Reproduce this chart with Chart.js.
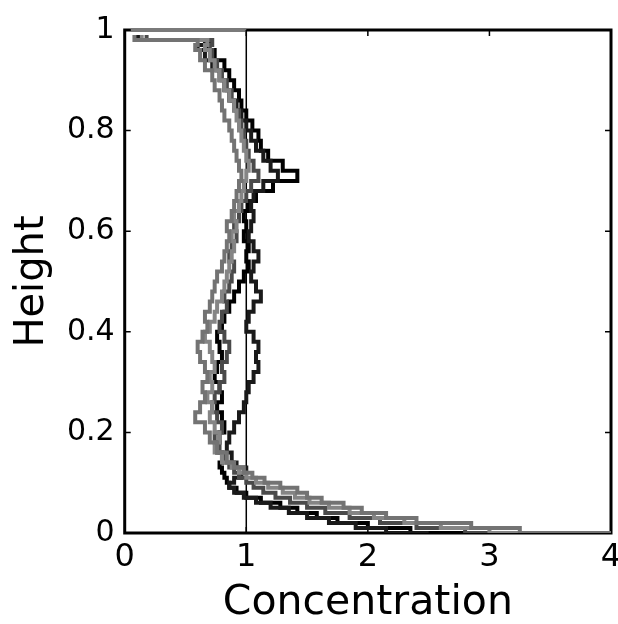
<!DOCTYPE html>
<html lang="en">
<head>
    <meta charset="UTF-8">
    <title>Concentration profiles</title>
    <script src="https://cdn.jsdelivr.net/npm/chart.js"></script>
    <style>
        body { margin: 0; background: #fff; }
    </style>
</head>
<body>
    <canvas id="myChartCanvas" width="618" height="624"></canvas>

<script>
    // heights where each profile was sampled (shared by all runs)
    const alturas = [0, 0.01, 0.02, 0.03, 0.04, 0.05, 0.06, 0.07, 0.08, 0.09,
        0.10, 0.11, 0.12, 0.13, 0.14, 0.16, 0.18, 0.20, 0.22, 0.24,
        0.26, 0.28, 0.30, 0.32, 0.34, 0.36, 0.38, 0.40, 0.42, 0.44,
        0.46, 0.48, 0.50, 0.52, 0.54, 0.56, 0.58, 0.60, 0.62, 0.64,
        0.66, 0.68, 0.70, 0.72, 0.74, 0.76, 0.78, 0.80, 0.82, 0.84,
        0.86, 0.88, 0.90, 0.92, 0.94, 0.96, 0.97, 0.98, 0.99];

    // concentration of each run at those heights
    const pretoA = [3.0, 2.35, 2.0, 1.75, 1.58, 1.42, 1.28, 1.12, 1.0, 0.92,
        0.86, 0.84, 0.82, 0.8, 0.78, 0.8, 0.76, 0.78, 0.82, 0.8,
        0.76, 0.8, 0.78, 0.74, 0.76, 0.8, 0.78, 0.76, 0.8, 0.82,
        0.86, 0.9, 0.94, 0.98, 1.02, 1.0, 1.02, 0.98, 1.0, 0.98,
        1.02, 1.08, 1.22, 1.42, 1.3, 1.18, 1.12, 1.1, 1.05, 1.0,
        0.96, 0.94, 0.9, 0.86, 0.82, 0.74, 0.68, 0.7, 0.12];

    const pretoB = [2.5, 2.15, 1.9, 1.68, 1.5, 1.35, 1.2, 1.08, 0.98, 0.9,
        0.86, 0.9, 0.96, 1.0, 0.92, 0.88, 0.84, 0.86, 0.9, 0.94,
        0.98, 1.0, 1.02, 1.06, 1.1, 1.08, 1.1, 1.06, 1.0, 1.02,
        1.06, 1.12, 1.08, 1.04, 1.06, 1.1, 1.06, 1.02, 1.04, 1.06,
        1.04, 1.06, 1.14, 1.26, 1.2, 1.14, 1.08, 1.04, 1.0, 0.96,
        0.92, 0.86, 0.82, 0.78, 0.72, 0.66, 0.6, 0.66, 0.1];

    const cinzaEscuro = [3.3, 2.8, 2.4, 2.1, 1.85, 1.65, 1.5, 1.36, 1.24, 1.14,
        1.06, 1.0, 0.94, 0.9, 0.86, 0.82, 0.78, 0.74, 0.8, 0.76,
        0.72, 0.74, 0.78, 0.82, 0.8, 0.84, 0.86, 0.82, 0.78, 0.8,
        0.84, 0.82, 0.86, 0.88, 0.9, 0.86, 0.88, 0.92, 0.9, 0.94,
        0.96, 1.0, 1.04, 1.1, 1.06, 1.02, 1.0, 0.98, 0.96, 0.94,
        0.9, 0.88, 0.84, 0.8, 0.76, 0.72, 0.7, 0.72, 0.18];

    const cinzaA = [4.0, 3.25, 2.85, 2.4, 2.15, 1.95, 1.8, 1.62, 1.5, 1.42,
        1.28, 1.15, 1.05, 0.98, 0.9, 0.84, 0.76, 0.7, 0.66, 0.58,
        0.62, 0.66, 0.64, 0.68, 0.66, 0.62, 0.6, 0.64, 0.68, 0.66,
        0.7, 0.72, 0.74, 0.76, 0.8, 0.82, 0.84, 0.86, 0.84, 0.88,
        0.9, 0.92, 0.94, 0.96, 0.94, 0.92, 0.9, 0.88, 0.86, 0.82,
        0.8, 0.78, 0.74, 0.72, 0.66, 0.62, 0.58, 0.6, 0.08];

    const cinzaB = [3.6, 3.0, 2.6, 2.3, 2.05, 1.85, 1.68, 1.52, 1.4, 1.3,
        1.18, 1.08, 1.0, 0.94, 0.88, 0.8, 0.74, 0.78, 0.74, 0.7,
        0.72, 0.68, 0.72, 0.7, 0.74, 0.72, 0.7, 0.66, 0.7, 0.74,
        0.76, 0.8, 0.82, 0.84, 0.86, 0.88, 0.9, 0.88, 0.92, 0.9,
        0.94, 0.96, 0.98, 1.0, 1.02, 1.0, 0.98, 0.96, 0.94, 0.92,
        0.9, 0.86, 0.82, 0.78, 0.74, 0.7, 0.66, 0.68, 0.14];

    // reference line (uniform concentration) and the band along the lid
    const referenciaX = [1, 1];
    const referenciaY = [0, 1];
    const tampaX = [0.05, 1.0];
    const tampaY = [1, 1];

    const xTicks = [0, 1, 2, 3, 4];
    const yTicks = [0, 0.2, 0.4, 0.6, 0.8, 1];

    function montarPontos(xs, ys) {
        return xs.map((v, i) => ({ x: v, y: ys[i] }));
    }

    function perfil(valores, cor) {
        return {
            data: montarPontos(valores, alturas),
            borderColor: cor,
            borderWidth: 4,
            stepped: 'before',
            pointRadius: 0,
            fill: false
        };
    }

    // frame round the plot + small inward ticks, drawn under the lines
    const moldura = {
        id: 'moldura',
        beforeDatasetsDraw(chart) {
            const { ctx, chartArea: a, scales } = chart;
            ctx.save();
            ctx.strokeStyle = '#000';
            ctx.lineWidth = 3;
            ctx.strokeRect(a.left, a.top, a.right - a.left, a.bottom - a.top);
            ctx.lineWidth = 1.5;
            ctx.beginPath();
            xTicks.forEach(t => {
                const px = scales.x.getPixelForValue(t);
                ctx.moveTo(px, a.bottom); ctx.lineTo(px, a.bottom - 6);
                ctx.moveTo(px, a.top); ctx.lineTo(px, a.top + 6);
            });
            yTicks.forEach(t => {
                const py = scales.y.getPixelForValue(t);
                ctx.moveTo(a.left, py); ctx.lineTo(a.left + 6, py);
                ctx.moveTo(a.right, py); ctx.lineTo(a.right - 6, py);
            });
            ctx.stroke();
            ctx.restore();
        }
    };

    Chart.defaults.font.family = "'DejaVu Sans', sans-serif";
    Chart.defaults.color = '#000';

    const dados = {
        datasets: [
            perfil(cinzaA, '#737373'),
            perfil(cinzaB, '#858585'),
            perfil(cinzaEscuro, '#4a4a4a'),
            perfil(pretoB, '#1a1a1a'),
            perfil(pretoA, '#000'),
            {
                data: montarPontos(referenciaX, referenciaY),
                borderColor: '#000',
                borderWidth: 1.5,
                pointRadius: 0
            },
            {
                data: montarPontos(tampaX, tampaY),
                borderColor: '#7a7a7a',
                borderWidth: 4,
                pointRadius: 0,
                clip: false
            }
        ]
    };

    const config = {
        type: 'line',
        data: dados,
        options: {
            responsive: false,
            animation: false,
            layout: { padding: { left: 4, top: 30, right: 7, bottom: 0 } },
            plugins: {
                legend: { display: false },
                tooltip: { enabled: false }
            },
            scales: {
                x: {
                    type: 'linear',
                    min: 0,
                    max: 4,
                    afterBuildTicks: s => { s.ticks = xTicks.map(v => ({ value: v })); },
                    // the "4" may run to the window edge, like the original
                    afterFit: s => { s.paddingRight = 0; },
                    grid: { display: false, drawTicks: false },
                    border: { display: false },
                    ticks: {
                        padding: 9,
                        font: { size: 32, lineHeight: 1 },
                        maxRotation: 0,
                        callback: v => String(v)
                    },
                    title: {
                        display: true,
                        text: 'Concentration',
                        font: { size: 41, lineHeight: 1 },
                        padding: { top: 0, bottom: 0 }
                    }
                },
                y: {
                    type: 'linear',
                    min: 0,
                    max: 1,
                    afterBuildTicks: s => { s.ticks = yTicks.map(v => ({ value: v })); },
                    grid: { display: false, drawTicks: false },
                    border: { display: false },
                    ticks: {
                        padding: 10,
                        font: { size: 30, lineHeight: 1 },
                        callback: v => String(+v.toFixed(1))
                    },
                    title: {
                        display: true,
                        text: 'Height',
                        font: { size: 40, lineHeight: 1.2 },
                        padding: { top: 5, bottom: 0 }
                    }
                }
            }
        },
        plugins: [moldura]
    };

    let myChart = new Chart(document.getElementById('myChartCanvas'), config);
</script>
</body>
</html>
